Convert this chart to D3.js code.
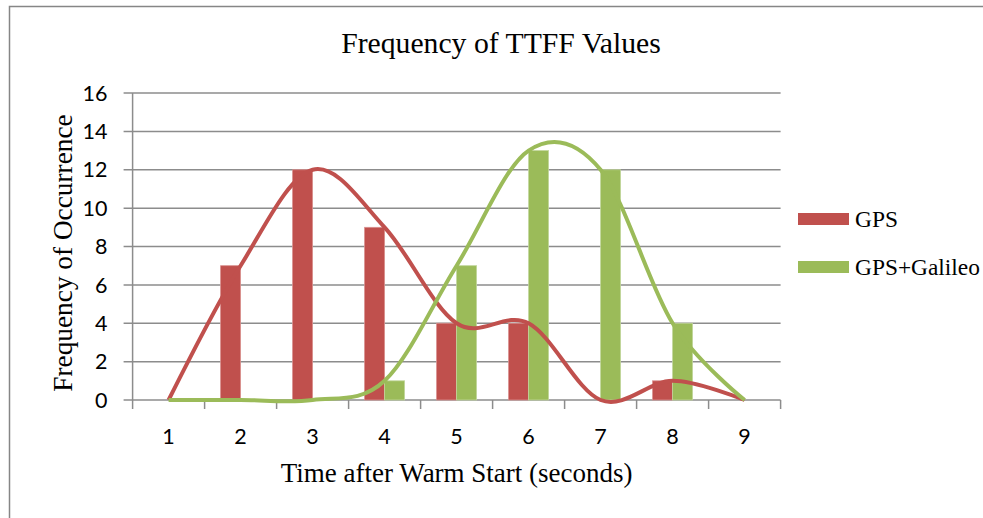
<!DOCTYPE html>
<html>
<head>
<meta charset="utf-8">
<script src="https://cdn.jsdelivr.net/npm/d3@7"></script>
<style>
  html, body { margin: 0; padding: 0; background: #fff; }
  svg { display: block; }
</style>
</head>
<body>
<svg id="chart" width="983" height="518"></svg>
<script>
// Frequency data: one entry per TTFF bucket (seconds after warm start)
const categories = [1, 2, 3, 4, 5, 6, 7, 8, 9];
const gpsValues = [0, 7, 12, 9, 4, 4, 0, 1, 0];
const galileoValues = [0, 0, 0, 1, 7, 13, 12, 4, 0];
const seriesNames = ["GPS", "GPS+Galileo"];
const yTicks = [0, 2, 4, 6, 8, 10, 12, 14, 16];

const colors = { "GPS": "#C0504D", "GPS+Galileo": "#9BBB59" };
const strokes = { "GPS": "#D9908E", "GPS+Galileo": "#C1D69B" };

const svg = d3.select("#chart");

// Outer chart frame
svg.append("rect")
  .attr("x", 9.5).attr("y", 6.5)
  .attr("width", 1000).attr("height", 600)
  .attr("fill", "#fff").attr("stroke", "#868686").attr("stroke-width", 1.5);

const plot = { left: 132.6, right: 780.6, top: 93, bottom: 400 };

const x = d3.scaleBand().domain(categories).range([plot.left, plot.right]).padding(0);
const y = d3.scaleLinear().domain([0, 16]).range([plot.bottom, plot.top]);
const xc = d => x(d) + x.bandwidth() / 2;

// Horizontal gridlines with their left tick marks
svg.append("g").selectAll("line").data(yTicks).join("line")
  .attr("x1", plot.left - 9).attr("x2", plot.right)
  .attr("y1", d => y(d)).attr("y2", d => y(d))
  .attr("stroke", "#8c8c8c").attr("stroke-width", 1.5);

// Y axis line
svg.append("line")
  .attr("x1", plot.left).attr("x2", plot.left)
  .attr("y1", plot.top).attr("y2", plot.bottom)
  .attr("stroke", "#8c8c8c").attr("stroke-width", 1.5);

// X axis tick marks between categories
const xBounds = categories.map(c => x(c)).concat([plot.right]);
svg.append("g").selectAll("line").data(xBounds).join("line")
  .attr("x1", d => d).attr("x2", d => d)
  .attr("y1", plot.bottom).attr("y2", plot.bottom + 9)
  .attr("stroke", "#8c8c8c").attr("stroke-width", 1.5);

// Y tick labels
svg.append("g").selectAll("text").data(yTicks).join("text")
  .attr("x", 107.5).attr("y", d => y(d))
  .attr("dy", "0.36em")
  .attr("text-anchor", "end")
  .attr("font-family", "Lato, 'Open Sans', sans-serif")
  .attr("font-size", 21.5)
  .attr("fill", "#000")
  .text(d => d);

// X tick labels
svg.append("g").selectAll("text").data(categories).join("text")
  .attr("x", d => xc(d)).attr("y", 443.5)
  .attr("text-anchor", "middle")
  .attr("font-family", "Lato, 'Open Sans', sans-serif")
  .attr("font-size", 21.5)
  .attr("fill", "#000")
  .text(d => d);

// Clustered bars
const barW = 20;
const barGroups = [
  { name: "GPS", values: gpsValues, offset: -barW },
  { name: "GPS+Galileo", values: galileoValues, offset: 0 }
];
barGroups.forEach(s => {
  svg.append("g").selectAll("rect")
    .data(categories.map((c, i) => ({ c, v: s.values[i] })).filter(d => d.v > 0))
    .join("rect")
    .attr("x", d => xc(d.c) + s.offset)
    .attr("y", d => y(d.v))
    .attr("width", barW)
    .attr("height", d => y(0) - y(d.v))
    .attr("fill", colors[s.name])
    .attr("stroke", strokes[s.name])
    .attr("stroke-width", 0.8);
});

// Smoothed trend lines through the bucket counts
const line = d3.line()
  .x(d => xc(d.c))
  .y(d => y(d.v))
  .curve(d3.curveCardinal.tension(0));
barGroups.forEach(s => {
  svg.append("path")
    .datum(categories.map((c, i) => ({ c, v: s.values[i] })))
    .attr("d", line)
    .attr("fill", "none")
    .attr("stroke", colors[s.name])
    .attr("stroke-width", 4)
    .attr("stroke-linejoin", "round");
});

// Title
svg.append("text")
  .attr("x", 501).attr("y", 53)
  .attr("text-anchor", "middle")
  .attr("font-family", "'Liberation Serif', 'Times New Roman', serif")
  .attr("font-size", 29.7)
  .text("Frequency of TTFF Values");

// X axis title
svg.append("text")
  .attr("x", 456.7).attr("y", 481.7)
  .attr("text-anchor", "middle")
  .attr("font-family", "'Liberation Serif', 'Times New Roman', serif")
  .attr("font-size", 27)
  .text("Time after Warm Start (seconds)");

// Y axis title
svg.append("text")
  .attr("transform", "translate(71.5,253) rotate(-90)")
  .attr("text-anchor", "middle")
  .attr("font-family", "'Liberation Serif', 'Times New Roman', serif")
  .attr("font-size", 27.3)
  .text("Frequency of Occurrence");

// Legend
const legend = svg.append("g");
seriesNames.forEach((name, i) => {
  const ly = 219 + i * 48;
  legend.append("rect")
    .attr("x", 798).attr("y", ly - 6)
    .attr("width", 51).attr("height", 12)
    .attr("fill", colors[name]);
  legend.append("text")
    .attr("x", 855).attr("y", ly + 8)
    .attr("font-family", "'Liberation Serif', 'Times New Roman', serif")
    .attr("font-size", 23.4)
    .text(name);
});
</script>
</body>
</html>
